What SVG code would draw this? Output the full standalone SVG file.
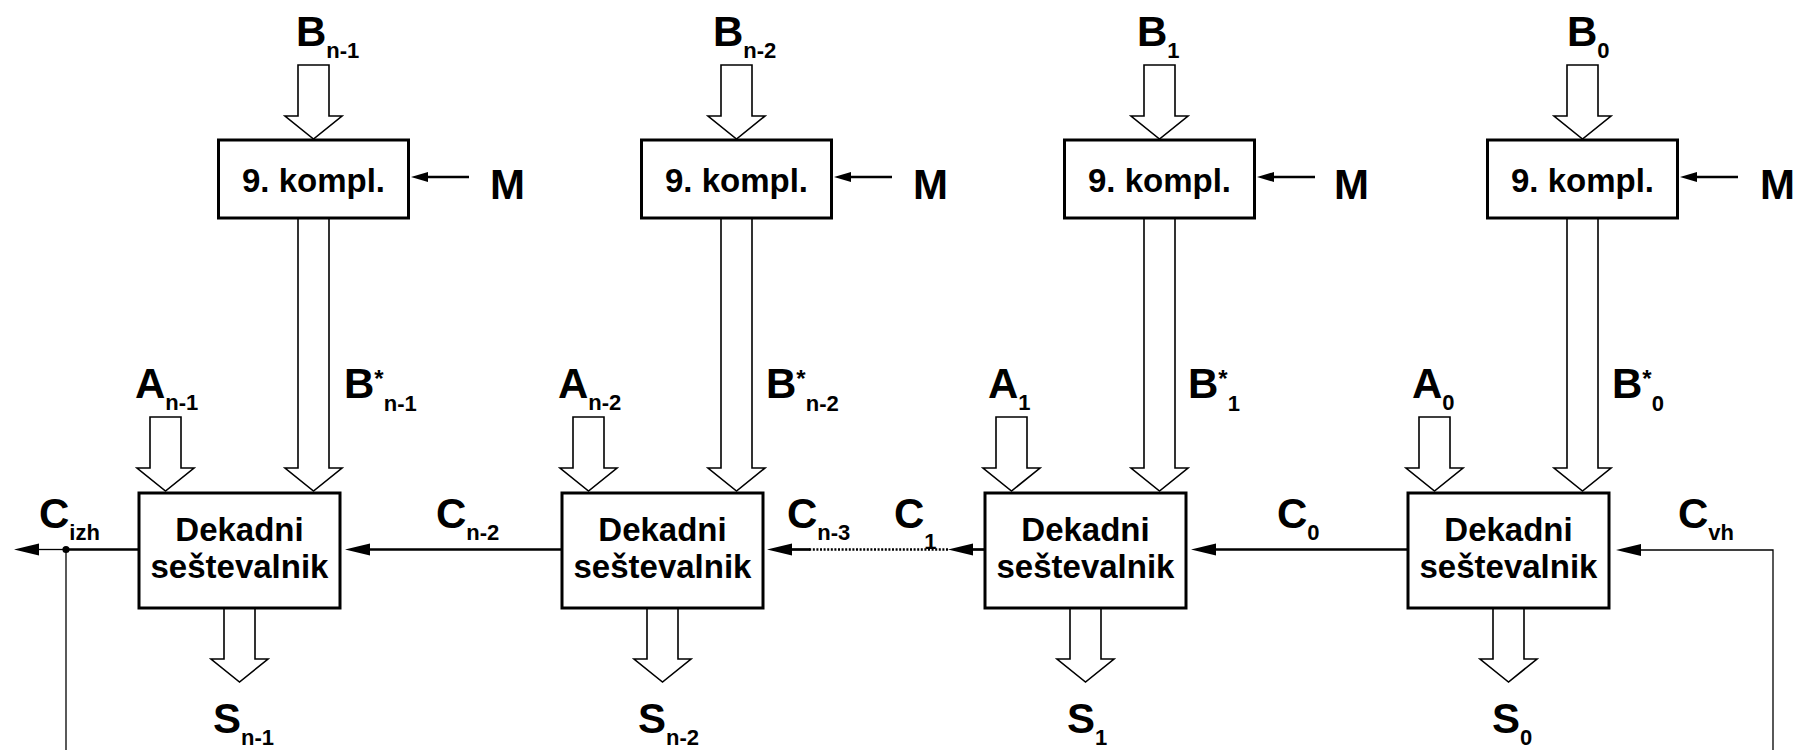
<svg xmlns="http://www.w3.org/2000/svg" xmlns:xlink="http://www.w3.org/1999/xlink" width="1797" height="750" viewBox="0 0 1797 750">
  <style>
    text { font-family: "Liberation Sans", Arial, sans-serif; font-weight: bold; fill: #000; }
    .big { font-size: 42px; }
    .sub { font-size: 22px; }
    .star { font-size: 24px; }
    .box { fill: #fff; stroke: #000; stroke-width: 3; }
    .blk { fill: #fff; stroke: #000; stroke-width: 1.6; stroke-linejoin: miter; }
    .lbl { font-size: 33px; text-anchor: middle; }
    .thick { fill: none; stroke: #000; stroke-width: 2.7; }
    .thin { fill: none; stroke: #000; stroke-width: 1.3; }
    .dot { fill: none; stroke: #000; stroke-width: 2.7; stroke-dasharray: 2 1.6; }
  </style>
  <defs>
    <!-- hollow bus arrow, origin at top centre of the shaft -->
    <path id="bus" d="M-15.5,0 H15.5 V51 H28.5 L0,74 L-28.5,51 H-15.5 Z"/>
    <marker id="ah" markerUnits="userSpaceOnUse" viewBox="0 -7 26 14" refX="0" refY="0" markerWidth="26" markerHeight="14" orient="auto" overflow="visible">
      <path d="M0,-6 L25,0 L0,6 Z" fill="#000"/>
    </marker>
    <marker id="ahs" markerUnits="userSpaceOnUse" viewBox="0 -6 18 12" refX="0" refY="0" markerWidth="18" markerHeight="12" orient="auto" overflow="visible">
      <path d="M0,-5 L17,0 L0,5 Z" fill="#000"/>
    </marker>
  </defs>

  <!-- carry chain and feedback wiring -->
  <g id="connectors">
    <path class="thin" d="M1773,750 V550 H1641" marker-end="url(#ah)"/>
    <path class="thick" d="M1408,549.5 H1216" marker-end="url(#ah)"/>
    <path class="thick" d="M985,549.5 H973" marker-end="url(#ah)"/>
    <path class="dot" d="M948,549.5 H809"/>
    <path class="thick" d="M810,549.5 H792" marker-end="url(#ah)"/>
    <path class="thick" d="M562,549.5 H370" marker-end="url(#ah)"/>
    <path class="thick" d="M139,549.5 H66"/>
    <path class="thin" d="M66,549.5 H39" marker-end="url(#ah)"/>
    <path class="thin" d="M66,549.5 V750"/>
    <circle cx="66" cy="549.5" r="3.6" fill="#000"/>
    <!-- mode lines into the complementers -->
    <path class="thick" d="M469,177 H428" marker-end="url(#ahs)"/>
    <path class="thick" d="M892,177 H851" marker-end="url(#ahs)"/>
    <path class="thick" d="M1315,177 H1274" marker-end="url(#ahs)"/>
    <path class="thick" d="M1738,177 H1697" marker-end="url(#ahs)"/>
  </g>

  <!-- digit n-1 -->
  <g id="digit-n-1">
    <use xlink:href="#bus" class="blk" x="313.5" y="65"/>
    <path class="blk" d="M298,218 V468 H285 L313.5,491 L342,468 H329 V218 Z"/>
    <use xlink:href="#bus" class="blk" x="165.5" y="417"/>
    <use xlink:href="#bus" class="blk" x="239.5" y="608"/>
    <rect class="box" x="218.5" y="140" width="190" height="78"/>
    <text class="lbl" x="313.5" y="192">9. kompl.</text>
    <rect class="box" x="139" y="493" width="201" height="115"/>
    <text class="lbl" x="239.5" y="541">Dekadni</text>
    <text class="lbl" x="239.5" y="578">seštevalnik</text>
    <text class="big" x="296" y="46">B<tspan class="sub" y="58">n-1</tspan></text>
    <text class="big" x="490" y="199">M</text>
    <text class="big" x="135" y="398">A<tspan class="sub" y="410">n-1</tspan></text>
    <text class="big" x="344" y="398">B<tspan class="star" y="387">*</tspan><tspan class="sub" y="411">n-1</tspan></text>
    <text class="big" x="213" y="733">S<tspan class="sub" y="745">n-1</tspan></text>
  </g>

  <!-- digit n-2 -->
  <g id="digit-n-2">
    <use xlink:href="#bus" class="blk" x="736.5" y="65"/>
    <path class="blk" d="M721,218 V468 H708 L736.5,491 L765,468 H752 V218 Z"/>
    <use xlink:href="#bus" class="blk" x="588.5" y="417"/>
    <use xlink:href="#bus" class="blk" x="662.5" y="608"/>
    <rect class="box" x="641.5" y="140" width="190" height="78"/>
    <text class="lbl" x="736.5" y="192">9. kompl.</text>
    <rect class="box" x="562" y="493" width="201" height="115"/>
    <text class="lbl" x="662.5" y="541">Dekadni</text>
    <text class="lbl" x="662.5" y="578">seštevalnik</text>
    <text class="big" x="713" y="46">B<tspan class="sub" y="58">n-2</tspan></text>
    <text class="big" x="913" y="199">M</text>
    <text class="big" x="558" y="398">A<tspan class="sub" y="410">n-2</tspan></text>
    <text class="big" x="766" y="398">B<tspan class="star" y="387">*</tspan><tspan class="sub" y="411">n-2</tspan></text>
    <text class="big" x="638" y="733">S<tspan class="sub" y="745">n-2</tspan></text>
  </g>

  <!-- digit 1 -->
  <g id="digit-1">
    <use xlink:href="#bus" class="blk" x="1159.5" y="65"/>
    <path class="blk" d="M1144,218 V468 H1131 L1159.5,491 L1188,468 H1175 V218 Z"/>
    <use xlink:href="#bus" class="blk" x="1011.5" y="417"/>
    <use xlink:href="#bus" class="blk" x="1085.5" y="608"/>
    <rect class="box" x="1064.5" y="140" width="190" height="78"/>
    <text class="lbl" x="1159.5" y="192">9. kompl.</text>
    <rect class="box" x="985" y="493" width="201" height="115"/>
    <text class="lbl" x="1085.5" y="541">Dekadni</text>
    <text class="lbl" x="1085.5" y="578">seštevalnik</text>
    <text class="big" x="1137" y="46">B<tspan class="sub" y="58">1</tspan></text>
    <text class="big" x="1334" y="199">M</text>
    <text class="big" x="988" y="398">A<tspan class="sub" y="410">1</tspan></text>
    <text class="big" x="1188" y="398">B<tspan class="star" y="387">*</tspan><tspan class="sub" y="411">1</tspan></text>
    <text class="big" x="1067" y="733">S<tspan class="sub" y="745">1</tspan></text>
  </g>

  <!-- digit 0 -->
  <g id="digit-0">
    <use xlink:href="#bus" class="blk" x="1582.5" y="65"/>
    <path class="blk" d="M1567,218 V468 H1554 L1582.5,491 L1611,468 H1598 V218 Z"/>
    <use xlink:href="#bus" class="blk" x="1434.5" y="417"/>
    <use xlink:href="#bus" class="blk" x="1508.5" y="608"/>
    <rect class="box" x="1487.5" y="140" width="190" height="78"/>
    <text class="lbl" x="1582.5" y="192">9. kompl.</text>
    <rect class="box" x="1408" y="493" width="201" height="115"/>
    <text class="lbl" x="1508.5" y="541">Dekadni</text>
    <text class="lbl" x="1508.5" y="578">seštevalnik</text>
    <text class="big" x="1567" y="46">B<tspan class="sub" y="58">0</tspan></text>
    <text class="big" x="1760" y="199">M</text>
    <text class="big" x="1412" y="398">A<tspan class="sub" y="410">0</tspan></text>
    <text class="big" x="1612" y="398">B<tspan class="star" y="387">*</tspan><tspan class="sub" y="411">0</tspan></text>
    <text class="big" x="1492" y="733">S<tspan class="sub" y="745">0</tspan></text>
  </g>

  <!-- carry labels -->
  <g id="carry-labels">
    <text class="big" x="39" y="528">C<tspan class="sub" y="540">izh</tspan></text>
    <text class="big" x="436" y="528">C<tspan class="sub" y="540">n-2</tspan></text>
    <text class="big" x="787" y="528">C<tspan class="sub" y="540">n-3</tspan></text>
    <text class="big" x="894" y="528">C<tspan class="sub" y="549">1</tspan></text>
    <text class="big" x="1277" y="528">C<tspan class="sub" y="540">0</tspan></text>
    <text class="big" x="1678" y="528">C<tspan class="sub" y="540">vh</tspan></text>
  </g>
</svg>
